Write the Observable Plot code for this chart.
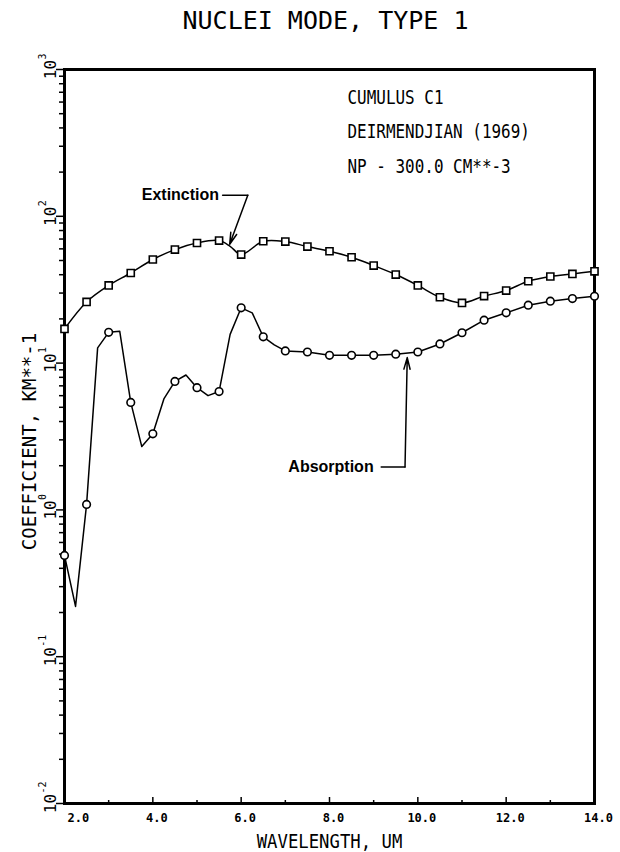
<!DOCTYPE html>
<html><head><meta charset="utf-8">
<script src="https://cdn.jsdelivr.net/npm/d3@7"></script>
<script src="https://cdn.jsdelivr.net/npm/@observablehq/plot@0.6"></script>
<style>body{margin:0;background:#fff}</style>
</head><body><div id="chart"></div>
<script>
// ---- data ----
const absWavelength = [2.0,2.25,2.5,2.75,3.0,3.25,3.5,3.75,4.0,4.25,4.5,4.75,5.0,5.25,5.5,5.75,6.0,6.25,6.5,6.75,7.0,7.5,8.0,8.5,9.0,9.5,10.0,10.5,11.0,11.5,12.0,12.5,13.0,13.5,14.0];
const absCoeff = [0.49,0.22,1.09,12.7,16.2,16.5,5.4,2.7,3.3,5.7,7.5,8.3,6.8,6.0,6.4,15.7,23.8,22.0,15.1,13.3,12.1,11.9,11.3,11.3,11.3,11.5,11.9,13.5,16.1,19.6,22.0,24.8,26.4,27.5,28.5];
const extWavelength = [2.0,2.5,3.0,3.5,4.0,4.5,5.0,5.5,5.75,6.0,6.5,7.0,7.5,8.0,8.5,9.0,9.5,10.0,10.5,11.0,11.5,12.0,12.5,13.0,13.5,14.0];
const extCoeff = [17.1,26.1,33.8,41.1,50.8,59.3,65.8,68.3,62.5,54.9,67.6,67.3,62.2,57.8,52.6,46.2,40.1,33.8,28.1,25.7,28.6,31.2,36.1,38.9,40.5,42.2];
const xMajorTicks = [2,4,6,8,10,12,14];
const xMinorTicks = [3,5,7,9,11,13];
const xTickLabels = ["2.0","4.0","6.0","8.0","10.0","12.0","14.0"];
const yMajorTicks = [0.01,0.1,1,10,100,1000];
const yTickBase = "10";
const yTickExponents = ["-2","-1","0","1","2","3"];
const titleText = "NUCLEI MODE, TYPE 1";
const infoLines = ["CUMULUS C1","DEIRMENDJIAN (1969)","NP - 300.0 CM**-3"];
const xLabel = "WAVELENGTH, UM";
const yLabel = "COEFFICIENT, KM**-1";
const seriesNames = ["Extinction","Absorption"];

// ---- derived ----
const minorY = [];
for (const d of [0.01,0.1,1,10,100]) for (let m = 2; m <= 9; m++) minorY.push(+(d*m).toPrecision(3));
const abs = absWavelength.map((w,i)=>({w, v: absCoeff[i]}));
const ext = extWavelength.map((w,i)=>({w, v: extCoeff[i]}));
const isMarker = d => Number.isInteger(d.w*2);
const xLab = xMajorTicks.map((x,i)=>({x, t: xTickLabels[i]}));

// annotation anchors (data coordinates)
const extLeader = [{w:5.58,v:139},{w:6.15,v:139}];
const extArrow = [{x1:6.15,y1:139,x2:5.74,y2:64.5}];
const absLeader = [{w:9.17,v:1.96},{w:9.71,v:1.96}];
const absArrow = [{x1:9.71,y1:1.96,x2:9.76,y2:10.9}];

const mono = "DejaVu Sans Mono";
const chart = Plot.plot({
  width: 620, height: 852,
  marginTop: 69, marginBottom: 49, marginLeft: 64, marginRight: 26,
  style: {background: "#fff", fontFamily: mono, color: "#000"},
  x: {domain: [2, 14], axis: null},
  y: {type: "log", domain: [0.01, 1000], axis: null},
  marks: [
    Plot.axisY(minorY, {anchor: "left", tickSize: 5, tickFormat: () => "", strokeWidth: 1.5, label: null}),
    Plot.axisY(yMajorTicks, {anchor: "left", tickSize: 8, tickFormat: () => "", strokeWidth: 1.5, label: null}),
    Plot.text(yMajorTicks, {x: () => 2, y: d => d, text: () => yTickBase, rotate: -90, dx: -14, textAnchor: "middle", lineAnchor: "middle", fontSize: 16}),
    Plot.text(yMajorTicks, {x: () => 2, y: d => d, text: (d,i) => yTickExponents[i], rotate: -90, dx: -22, dy: -10, textAnchor: "start", lineAnchor: "middle", fontSize: 10}),
    Plot.tickX(xMajorTicks, {x: d => d, insetTop: 728, strokeWidth: 1.5}),
    Plot.tickX(xMinorTicks, {x: d => d, insetTop: 731, strokeWidth: 1.5}),
    Plot.text(xLab.slice(0,1), {x: "x", text: "t", frameAnchor: "bottom", dx: 3, dy: 10, textAnchor: "start", lineAnchor: "top", fontSize: 12, fontWeight: "bold"}),
    Plot.text(xLab.slice(1), {x: "x", text: "t", frameAnchor: "bottom", dx: 4, dy: 10, textAnchor: "middle", lineAnchor: "top", fontSize: 12, fontWeight: "bold"}),
    Plot.text([xLabel], {frameAnchor: "bottom", dy: 44, lineAnchor: "bottom", fontSize: 20, className: "xl"}),
    Plot.text([yLabel], {frameAnchor: "left", dx: -35, dy: 5, rotate: -90, textAnchor: "middle", lineAnchor: "middle", fontSize: 19}),
    Plot.text([titleText], {frameAnchor: "top", dx: -4, dy: -41, lineAnchor: "bottom", fontSize: 25}),
    ...infoLines.map((t,i) => Plot.text([t], {frameAnchor: "top-left", dx: 283, dy: 34 + 34.5*i, lineAnchor: "bottom", textAnchor: "start", fontSize: 19, className: "info"})),
    Plot.frame({strokeWidth: 3}),
    Plot.line(ext, {x: "w", y: "v", curve: "catmull-rom", strokeWidth: 1.5}),
    Plot.line(abs, {x: "w", y: "v", strokeWidth: 1.5}),
    Plot.dot(ext.filter(isMarker), {x: "w", y: "v", symbol: "square", r: 4, fill: "#fff", stroke: "#000", strokeWidth: 1.6}),
    Plot.dot(abs.filter(isMarker), {x: "w", y: "v", symbol: "circle", r: 3.8, fill: "#fff", stroke: "#000", strokeWidth: 1.6}),
    Plot.line(extLeader, {x: "w", y: "v", strokeWidth: 1.5}),
    Plot.arrow(extArrow, {x1: "x1", y1: "y1", x2: "x2", y2: "y2", strokeWidth: 1.5, headLength: 12, headAngle: 30}),
    Plot.line(absLeader, {x: "w", y: "v", strokeWidth: 1.5}),
    Plot.arrow(absArrow, {x1: "x1", y1: "y1", x2: "x2", y2: "y2", strokeWidth: 1.5, headLength: 12, headAngle: 30}),
    Plot.text([seriesNames[0]], {x: () => 5.5, y: () => 139, textAnchor: "end", lineAnchor: "middle", fontFamily: "Liberation Sans", fontWeight: "bold", fontSize: 16}),
    Plot.text([seriesNames[1]], {x: () => 9.0, y: () => 1.96, textAnchor: "end", lineAnchor: "middle", fontFamily: "Liberation Sans", fontWeight: "bold", fontSize: 16})
  ]
});
document.getElementById("chart").appendChild(chart);
// condense the plotter-style annotation text
d3.select(chart).selectAll(".info text").each(function(){
  const s = this.textContent; d3.select(this).attr("textLength", s.length*9.6).attr("lengthAdjust","spacingAndGlyphs");
});
d3.select(chart).selectAll(".xl text").each(function(){
  const s = this.textContent; d3.select(this).attr("textLength", s.length*10.4).attr("lengthAdjust","spacingAndGlyphs");
});
</script>
</body></html>
